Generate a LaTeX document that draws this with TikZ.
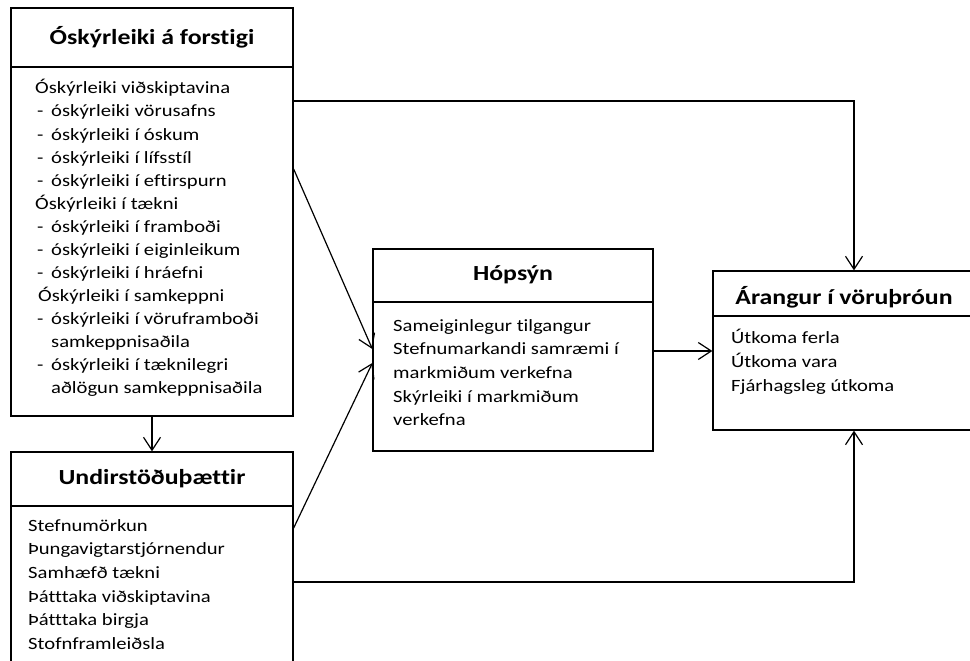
\documentclass[tikz,border=0pt]{standalone}
\usepackage{fontspec}
\setmainfont{Carlito}[FakeStretch=1.2, Ligatures=NoCommon]
\usetikzlibrary{arrows.meta}
\newcommand{\bodyfont}{\fontsize{17.2}{23}\selectfont}
\newcommand{\titlefont}{\fontsize{21.5}{25}\selectfont\bfseries}
\newcommand{\dsh}[1]{\makebox[14pt][l]{-}#1}
\newcommand{\cnt}[1]{\hspace*{14pt}#1}
\tikzset{
  box/.style={draw, line width=1.3pt, rectangle, inner sep=0pt},
  sep/.style={line width=1.3pt},
  ln/.style={anchor=base west, inner sep=0pt, font=\bodyfont},
  ttl/.style={anchor=base, inner sep=0pt, font=\titlefont},
  arr/.style={line width=1.2pt, -{Straight Barb[length=13pt,width=17pt,line width=1.2pt]}},
  con/.style={line width=1.2pt}
}
\begin{document}
\begin{tikzpicture}[x=1pt,y=-1pt]
\useasboundingbox (0,0) rectangle (970,661);
\clip (0,0) rectangle (970,661);
% boxes
\node[box, minimum width=282pt, minimum height=408pt] (b1) at (152,212) {};
\node[box, minimum width=282pt, minimum height=260pt] (b2) at (152,582) {};
\node[box, minimum width=280pt, minimum height=202pt] (b3) at (513,350) {};
\node[box, minimum width=266pt, minimum height=159pt] (b4) at (846,350.5) {};
% header separators
\coordinate (s1) at (0,67);
\coordinate (s2) at (0,506);
\coordinate (s3) at (0,302);
\coordinate (s4) at (0,316);
\draw[sep] (b1.west |- s1) -- (b1.east |- s1);
\draw[sep] (b2.west |- s2) -- (b2.east |- s2);
\draw[sep] (b3.west |- s3) -- (b3.east |- s3);
\draw[sep] (b4.west |- s4) -- (b4.east |- s4);
% titles
\node[ttl] (t1) at (152,44.5) {Óskýrleiki á forstigi};
\node[ttl] (t2) at (152,484.5) {Undirstöðuþættir};
\node[ttl] (t3) at (513,280.5) {Hópsýn};
\node[ttl] (t4) at (844,304.5) {Árangur í vöruþróun};
% box 1 body
\node[ln] (a0) at (35,94) {Óskýrleiki viðskiptavina};
\node[ln] (a1) at (37,117) {\dsh{óskýrleiki vörusafns}};
\node[ln] (a2) at (37,140) {\dsh{óskýrleiki í óskum}};
\node[ln] (a3) at (37,163) {\dsh{óskýrleiki í lífsstíl}};
\node[ln] (a4) at (37,186) {\dsh{óskýrleiki í eftirspurn}};
\node[ln] (a5) at (35,209) {Óskýrleiki í tækni};
\node[ln] (a6) at (37,232) {\dsh{óskýrleiki í framboði}};
\node[ln] (a7) at (37,255) {\dsh{óskýrleiki í eiginleikum}};
\node[ln] (a8) at (37,278) {\dsh{óskýrleiki í hráefni}};
\node[ln] (a9) at (38,301) {Óskýrleiki í samkeppni};
\node[ln] (a10) at (37,324) {\dsh{óskýrleiki í vöruframboði}};
\node[ln] (a11) at (37,347) {\cnt{samkeppnisaðila}};
\node[ln] (a12) at (37,370) {\dsh{óskýrleiki í tæknilegri}};
\node[ln] (a13) at (37,393) {\cnt{aðlögun samkeppnisaðila}};
% box 2 body
\node[ln] (u0) at (28,531) {Stefnumörkun};
\node[ln] (u1) at (28,554.7) {Þungavigtarstjórnendur};
\node[ln] (u2) at (28,578.4) {Samhæfð tækni};
\node[ln] (u3) at (28,602.1) {Þátttaka viðskiptavina};
\node[ln] (u4) at (28,625.8) {Þátttaka birgja};
\node[ln] (u5) at (28,649.5) {Stofnframleiðsla};
% box 3 body
\node[ln] (h0) at (393,331) {Sameiginlegur tilgangur};
\node[ln] (h1) at (393,354.7) {Stefnumarkandi samræmi í};
\node[ln] (h2) at (393,378.4) {markmiðum verkefna};
\node[ln] (h3) at (393,402.1) {Skýrleiki í markmiðum};
\node[ln] (h4) at (393,425.8) {verkefna};
% box 4 body
\node[ln] (r0) at (731,343) {Útkoma ferla};
\node[ln] (r1) at (731,367) {Útkoma vara};
\node[ln] (r2) at (731,391) {Fjárhagsleg útkoma};
% connector helpers
\coordinate (k1) at (854,101);
\coordinate (k2) at (854,582);
\coordinate (d1) at (0,169);
\coordinate (d2) at (0,528);
\coordinate (e1) at (0,349);
\coordinate (e2) at (0,363);
\coordinate (e3) at (0,351);
% connectors
\draw[arr] (b1.east |- k1) -- (k1) -- (b4.north -| k1);
\draw[arr] (b2.east |- k2) -- (k2) -- (b4.south -| k2);
\draw[arr] (b1.east |- d1) -- (b3.west |- e1);
\draw[arr] (b2.east |- d2) -- (b3.west |- e2);
\draw[arr] (b3.east |- e3) -- (b4.west |- e3);
\draw[arr] (b1.south) -- (b2.north);
\end{tikzpicture}
\end{document}
